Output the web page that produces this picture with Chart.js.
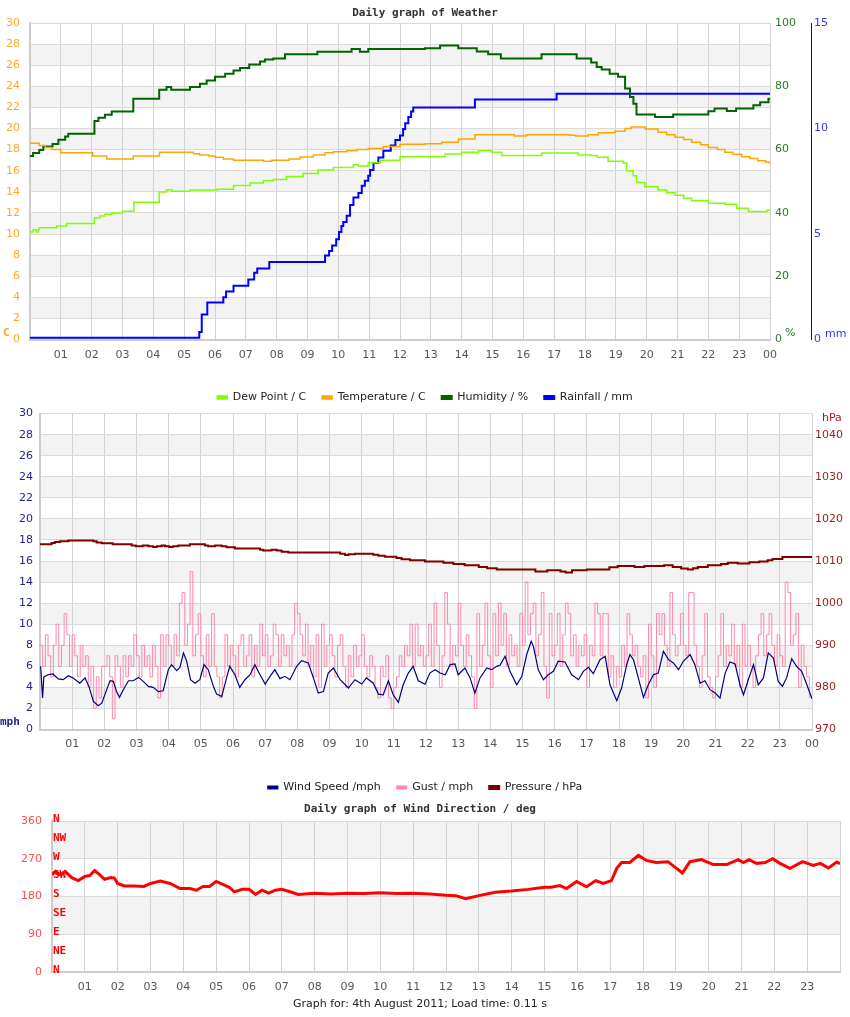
<!DOCTYPE html>
<html>
<head>
<meta charset="utf-8">
<title>Daily graph of Weather</title>
<script src="https://cdn.jsdelivr.net/npm/chart.js@4.4.0/dist/chart.umd.min.js"></script>
<style>
  body { margin: 0; background: #fff; }
  #wrap { position: relative; width: 850px; height: 1017px; }
  canvas { position: absolute; left: 0; }
</style>
</head>
<body>
<div id="wrap">
  <canvas id="chart1" width="850" height="413" style="top:0px"></canvas>
  <canvas id="chart2" width="850" height="403" style="top:400px"></canvas>
  <canvas id="chart3" width="850" height="221" style="top:796px"></canvas>
</div>
<script>
// tick labels
var hourLabels = ['', '01', '02', '03', '04', '05', '06', '07', '08', '09', '10', '11', '12',
                  '13', '14', '15', '16', '17', '18', '19', '20', '21', '22', '23', '00'];
var compassLabels = ['N', 'NE', 'E', 'SE', 'S', 'SW', 'W', 'NW', 'N'];

// weather (hours of day, values)
var tempTimes = [0, 0.3, 0.5, 0.7, 1.0, 2.03, 2.49, 3.35, 4.2, 5.3, 5.5, 5.8, 6.0, 6.27, 6.6, 7.57, 7.84, 8.4, 8.76, 9.19,
                 9.57, 9.84, 10.27, 10.6, 10.97, 11.46, 12.0, 12.81, 13.35, 13.9, 14.43, 15.7, 16.1, 17.5, 17.7, 18.1, 18.43, 18.97, 19.3, 19.5,
                 19.95, 20.37, 20.65, 20.92, 21.2, 21.46, 21.75, 22.0, 22.3, 22.54, 22.8, 23.08, 23.35, 23.6, 23.85, 24];
var temperature = [18.6, 18.4, 18.2, 18.0, 17.7, 17.4, 17.1, 17.4, 17.75, 17.6, 17.5, 17.4, 17.27, 17.1, 17.0, 16.9, 17.0, 17.1, 17.3, 17.5,
                   17.7, 17.8, 17.9, 18.0, 18.1, 18.3, 18.5, 18.55, 18.7, 19.0, 19.4, 19.3, 19.4, 19.35, 19.3, 19.4, 19.6, 19.75, 20.0, 20.15,
                   19.96, 19.65, 19.4, 19.17, 18.95, 18.7, 18.45, 18.2, 18.0, 17.75, 17.55, 17.33, 17.15, 16.95, 16.8, 16.6];

var dewTimes = [0, 0.1, 0.2, 0.27, 0.3, 0.86, 1.19, 2.09, 2.27, 2.43, 2.65, 3.0, 3.37, 4.19, 4.43, 4.6, 5.19, 6.06, 6.6, 7.14,
                7.57, 7.89, 8.32, 8.86, 9.35, 9.84, 10.49, 10.65, 10.97, 11.35, 12.0, 13.46, 14.0, 14.54, 14.97, 15.3, 16.6, 17.78, 18.2, 18.4,
                18.75, 19.24, 19.35, 19.56, 19.67, 19.94, 20.37, 20.65, 20.92, 21.2, 21.46, 22.0, 22.54, 22.92, 23.3, 23.9, 24];
var dewPoint = [10.2, 10.4, 10.2, 10.4, 10.6, 10.76, 11.0, 11.55, 11.7, 11.87, 12.0, 12.16, 13.0, 13.97, 14.2, 14.06, 14.16, 14.25, 14.6, 14.83,
                15.05, 15.17, 15.46, 15.74, 16.06, 16.3, 16.57, 16.45, 16.76, 17.0, 17.33, 17.59, 17.75, 17.9, 17.75, 17.43, 17.68, 17.5, 17.43, 17.27,
                16.9, 16.73, 16.0, 15.52, 14.89, 14.48, 14.16, 13.9, 13.68, 13.4, 13.14, 12.92, 12.83, 12.44, 12.13, 12.25, 12.25];

var humTimes = [0, 0.1, 0.3, 0.43, 0.73, 0.92, 1.14, 1.24, 2.09, 2.22, 2.43, 2.65, 3.35, 4.19, 4.43, 4.58, 5.19, 5.51, 5.73, 6.0,
                6.33, 6.6, 6.81, 7.11, 7.46, 7.62, 7.89, 8.27, 9.32, 10.43, 10.7, 10.97, 12.81, 13.3, 13.89, 14.49, 14.86, 15.27, 16.59, 17.73,
                18.2, 18.38, 18.54, 18.8, 19.07, 19.3, 19.46, 19.57, 19.67, 20.27, 20.86, 22.0, 22.2, 22.6, 22.9, 23.46, 23.68, 23.95, 24];
var humidity = [58.0, 58.95, 59.9, 60.95, 61.8, 63.1, 64.1, 65.0, 69.0, 70.05, 71.0, 72.06, 76.1, 78.9, 79.8, 78.9, 79.8, 80.8, 81.8, 83.0,
                84.0, 85.0, 85.8, 86.9, 87.8, 88.5, 88.8, 90.1, 90.9, 91.8, 90.9, 91.8, 92.0, 92.9, 92.0, 91.0, 90.1, 88.8, 90.1, 88.8,
                87.5, 86.1, 85.3, 84.0, 83.0, 79.3, 76.6, 74.5, 71.1, 70.3, 71.1, 72.1, 73.0, 72.2, 73.0, 74.0, 75.0, 76.1, 76.1];

var rainTimes = [0, 5.49, 5.57, 5.75, 6.27, 6.36, 6.6, 7.08, 7.27, 7.37, 7.76, 9.57, 9.7, 9.8, 9.93, 10.02, 10.1, 10.16, 10.27, 10.38,
                 10.49, 10.65, 10.76, 10.86, 10.97, 11.03, 11.14, 11.3, 11.46, 11.7, 11.85, 12.0, 12.1, 12.17, 12.27, 12.36, 12.43, 14.43, 17.08, 24];
var rainfall = [0.08, 0.35, 1.18, 1.75, 2.0, 2.27, 2.55, 2.84, 3.16, 3.37, 3.67, 3.98, 4.19, 4.46, 4.75, 5.1, 5.38, 5.57, 5.86, 6.37,
                6.73, 6.94, 7.29, 7.52, 7.76, 8.03, 8.37, 8.63, 8.95, 9.2, 9.46, 9.67, 9.98, 10.25, 10.54, 10.8, 11.0, 11.37, 11.65, 11.65];

// wind
var windTimes = [0.02, 0.08, 0.12, 0.25, 0.4, 0.57, 0.72, 0.88, 1.03, 1.24, 1.4, 1.53, 1.66, 1.81, 1.92, 2.05, 2.18, 2.28, 2.38, 2.47,
                 2.59, 2.75, 2.9, 3.06, 3.21, 3.37, 3.52, 3.68, 3.83, 3.99, 4.09, 4.25, 4.35, 4.46, 4.56, 4.68, 4.82, 4.97, 5.1, 5.23,
                 5.39, 5.49, 5.65, 5.8, 5.9, 6.06, 6.21, 6.37, 6.53, 6.68, 6.84, 7.0, 7.15, 7.3, 7.46, 7.61, 7.77, 7.98, 8.13, 8.34,
                 8.5, 8.65, 8.81, 8.96, 9.12, 9.33, 9.59, 9.79, 10.0, 10.15, 10.36, 10.52, 10.67, 10.83, 10.98, 11.14, 11.29, 11.45, 11.6, 11.76,
                 11.97, 12.12, 12.28, 12.44, 12.6, 12.75, 12.9, 13.0, 13.21, 13.37, 13.52, 13.68, 13.89, 14.04, 14.2, 14.3, 14.46, 14.61, 14.82, 14.98,
                 15.13, 15.27, 15.34, 15.49, 15.65, 15.8, 15.96, 16.11, 16.32, 16.53, 16.74, 16.89, 17.05, 17.2, 17.41, 17.57, 17.72, 17.93, 18.08, 18.24,
                 18.34, 18.45, 18.6, 18.76, 18.91, 19.07, 19.22, 19.38, 19.54, 19.69, 19.85, 20.0, 20.21, 20.36, 20.52, 20.67, 20.83, 20.99, 21.14, 21.3,
                 21.45, 21.61, 21.76, 21.87, 22.02, 22.18, 22.33, 22.49, 22.64, 22.8, 22.95, 23.08, 23.21, 23.37, 23.52, 23.68, 23.84, 24.0];
var windSpeed = [6.0, 3.0, 5.0, 5.2, 5.27, 4.8, 4.73, 5.1, 4.9, 4.4, 4.9, 4.0, 2.67, 2.25, 2.5, 3.6, 4.63, 4.57, 3.6, 3.05,
                 3.78, 4.63, 4.63, 4.95, 4.57, 4.1, 4.0, 3.6, 3.68, 5.68, 6.16, 5.59, 5.9, 7.27, 6.5, 4.73, 4.4, 4.73, 6.16, 5.68,
                 4.1, 3.36, 3.14, 4.9, 6.0, 5.2, 4.0, 4.73, 5.2, 6.16, 5.2, 4.32, 5.05, 5.68, 4.83, 5.05, 4.73, 6.0, 6.54, 6.32,
                 4.9, 3.46, 3.6, 5.36, 5.84, 4.73, 3.94, 4.73, 4.32, 4.9, 4.4, 3.36, 3.3, 4.63, 3.3, 2.57, 4.25, 5.36, 6.0, 4.63,
                 4.3, 5.36, 5.68, 5.36, 5.2, 6.16, 6.22, 5.2, 5.84, 4.9, 3.46, 4.9, 5.84, 5.68, 6.0, 6.1, 6.95, 5.52, 4.25, 5.05,
                 7.11, 8.38, 7.9, 5.68, 4.73, 5.2, 5.52, 6.48, 6.41, 5.2, 4.73, 5.52, 5.9, 5.3, 6.63, 6.95, 4.25, 2.73, 3.94, 6.16,
                 7.11, 6.63, 4.9, 3.05, 4.25, 5.2, 5.36, 7.43, 6.63, 6.32, 5.68, 6.48, 7.11, 6.16, 4.4, 4.63, 3.78, 3.46, 2.98, 5.36,
                 6.41, 6.22, 4.25, 3.3, 4.73, 6.16, 4.25, 4.9, 7.27, 6.79, 4.57, 4.1, 4.9, 6.73, 6.0, 5.52, 4.25, 2.92];

// gust, one row per hour, every 5 minutes
var gust = [
  8, 6, 9, 7, 5, 8, 10, 6, 8, 11, 9, 6,
  9, 7, 5, 8, 6, 7, 4, 6, 2, 5, 3, 6,
  6, 7, 5, 1, 7, 6, 4, 7, 5, 7, 6, 9,
  7, 5, 8, 6, 7, 5, 8, 6, 3, 9, 6, 9,
  8, 6, 9, 7, 12, 13, 8, 10, 15, 7, 9, 11,
  7, 5, 9, 6, 11, 6, 5, 3, 5, 9, 6, 8,
  7, 5, 8, 9, 6, 7, 9, 5, 8, 6, 10, 7,
  9, 6, 7, 10, 9, 6, 9, 7, 8, 6, 9, 12,
  11, 9, 7, 10, 6, 8, 5, 9, 4, 10, 6, 8,
  9, 7, 5, 8, 9, 6, 4, 7, 5, 8, 6, 7,
  9, 6, 5, 7, 6, 4, 3, 6, 5, 7, 3, 2,
  4, 5, 7, 6, 8, 7, 10, 6, 10, 7, 8, 6,
  7, 10, 6, 12, 8, 4, 7, 13, 10, 6, 8, 7,
  12, 8, 6, 9, 7, 5, 2, 11, 6, 8, 12, 7,
  4, 11, 7, 12, 8, 11, 6, 9, 7, 8, 6, 11,
  8, 14, 9, 11, 12, 7, 9, 13, 6, 3, 11, 7,
  8, 11, 6, 9, 12, 11, 7, 9, 6, 8, 7, 9,
  4, 8, 7, 12, 11, 7, 11, 11, 5, 7, 4, 6,
  5, 8, 6, 11, 9, 7, 8, 6, 5, 7, 3, 10,
  7, 4, 11, 9, 11, 8, 6, 13, 9, 7, 8, 11,
  8, 7, 13, 13, 8, 6, 4, 7, 11, 5, 4, 3,
  5, 7, 11, 6, 8, 7, 10, 6, 8, 4, 10, 6,
  8, 6, 4, 7, 9, 11, 7, 9, 11, 8, 6, 9,
  7, 6, 14, 13, 8, 9, 11, 4, 8, 6, 5, 3
];

var presTimes = [0, 0.36, 0.46, 0.62, 0.88, 1.66, 1.76, 1.92, 2.26, 2.85, 2.98, 3.19, 3.37, 3.52, 3.63, 3.78, 3.89, 4.02, 4.14, 4.3,
                 4.66, 5.13, 5.23, 5.44, 5.65, 5.8, 6.06, 6.84, 6.94, 7.2, 7.36, 7.51, 7.72, 9.33, 9.48, 9.59, 9.79, 10.36, 10.52, 10.72,
                 11.08, 11.24, 11.5, 11.97, 12.54, 12.85, 13.2, 13.64, 13.9, 14.2, 15.4, 15.77, 16.18, 16.34, 16.54, 17.0, 17.7, 17.96, 18.48, 18.79,
                 19.4, 19.67, 19.93, 20.14, 20.3, 20.45, 20.76, 21.17, 21.38, 21.69, 22.05, 22.36, 22.62, 22.77, 23.08, 24];
var pressure = [1014.0, 1014.3, 1014.5, 1014.7, 1014.9, 1014.7, 1014.4, 1014.2, 1014.0, 1013.7, 1013.5, 1013.7, 1013.5, 1013.3, 1013.5, 1013.7, 1013.5, 1013.3, 1013.5, 1013.7,
                1014.0, 1013.7, 1013.5, 1013.7, 1013.5, 1013.25, 1013.0, 1012.7, 1012.5, 1012.7, 1012.5, 1012.2, 1012.0, 1011.7, 1011.4, 1011.6, 1011.7, 1011.5, 1011.27, 1011.0,
                1010.7, 1010.4, 1010.2, 1009.9, 1009.6, 1009.3, 1009.0, 1008.6, 1008.3, 1008.0, 1007.5, 1007.8, 1007.5, 1007.3, 1007.8, 1008.0, 1008.5, 1008.8, 1008.6, 1008.8,
                1009.0, 1008.6, 1008.25, 1008.0, 1008.3, 1008.6, 1009.0, 1009.3, 1009.6, 1009.4, 1009.7, 1009.9, 1010.2, 1010.5, 1010.95, 1010.95];

// wind direction
var dirTimes = [0, 0.1, 0.25, 0.4, 0.6, 0.8, 1.0, 1.15, 1.3, 1.45, 1.6, 1.8, 1.9, 2.0, 2.2, 2.5, 2.8, 3.0, 3.3, 3.6,
                3.9, 4.2, 4.4, 4.6, 4.8, 5.0, 5.2, 5.4, 5.55, 5.8, 6.0, 6.2, 6.4, 6.6, 6.8, 7.0, 7.3, 7.5, 8.0, 8.5,
                9.0, 9.5, 10.0, 10.5, 11.0, 11.5, 12.0, 12.3, 12.6, 13.0, 13.5, 14.0, 14.5, 15.0, 15.2, 15.47, 15.67, 15.98, 16.28, 16.56,
                16.79, 17.04, 17.2, 17.35, 17.6, 17.86, 18.1, 18.4, 18.76, 19.02, 19.2, 19.43, 19.78, 20.14, 20.55, 20.9, 21.06, 21.23, 21.46, 21.72,
                21.95, 22.17, 22.48, 22.86, 23.19, 23.4, 23.65, 23.9, 24.0];
var windDir = [232, 240, 232, 240, 225, 218, 228, 230, 242, 232, 221, 225, 224, 211, 205, 205, 204, 211, 217, 211,
               199, 199, 195, 204, 204, 216, 209, 202, 191, 197, 197, 185, 195, 188, 195, 197, 190, 185, 188, 186,
               188, 187, 189, 187, 188, 186, 183, 182, 175, 182, 190, 193, 197, 202, 202, 206, 199, 216, 203, 218,
               211, 218, 247, 261, 261, 278, 266, 261, 263, 247, 236, 263, 268, 256, 256, 268, 261, 268, 259, 261,
               270, 259, 247, 263, 254, 259, 248, 262, 258];


function toPoints(times, values) {
    return times.map(function(t, i) { return {x: t, y: values[i]}; });
}

Chart.defaults.font.family = "'DejaVu Sans', sans-serif";
Chart.defaults.font.size = 11;
Chart.defaults.animation = false;

var titleFont = {family: "'DejaVu Sans Mono', monospace", size: 11, weight: 'bold'};

// grey stripes behind the grid
var bandsPlugin = {
    id: 'bands',
    beforeDraw: function(chart, args, opts) {
        var c = chart.ctx, area = chart.chartArea, ys = chart.scales[opts.axis];
        c.save();
        c.fillStyle = opts.color;
        for (var v = opts.start; v < ys.max; v += opts.step) {
            var top = ys.getPixelForValue(Math.min(v + opts.size, ys.max));
            var bottom = ys.getPixelForValue(v);
            c.fillRect(area.left, top, area.right - area.left, bottom - top);
        }
        c.restore();
    }
};

// unit captions next to the axes
var unitsPlugin = {
    id: 'units',
    afterDraw: function(chart, args, opts) {
        var c = chart.ctx;
        (opts.items || []).forEach(function(it) {
            c.save();
            c.font = it.font;
            c.fillStyle = it.color;
            c.textAlign = 'left';
            c.textBaseline = 'middle';
            c.fillText(it.text, it.x, it.y);
            c.restore();
        });
    }
};

// compass names on the direction axis
var compassPlugin = {
    id: 'compass',
    afterDraw: function(chart, args, opts) {
        var c = chart.ctx, ys = chart.scales.y;
        c.save();
        c.font = "bold 11px 'DejaVu Sans Mono', monospace";
        c.fillStyle = '#ff0000';
        c.textAlign = 'left';
        c.textBaseline = 'middle';
        compassLabels.forEach(function(name, i) {
            c.fillText(name, chart.chartArea.left + 1, ys.getPixelForValue(i * 45) - 2);
        });
        c.restore();
    }
};

function hourAxis(height, padding, hideLast) {
    return {
        type: 'linear', min: 0, max: 24,
        afterFit: function(s) { s.height = height; },
        ticks: {
            stepSize: 1, autoSkip: false, maxRotation: 0, color: '#555', padding: padding,
            callback: function(v) { return (hideLast && v === 24) ? '' : hourLabels[v]; }
        },
        grid: {color: '#d2d2d2', drawTicks: false},
        border: {display: true, color: '#cccccc', width: 2}
    };
}

var legendOpts = {
    position: 'bottom',
    display: true,
    labels: {boxWidth: 10, boxHeight: 3, padding: 16, color: '#222', font: {size: 11}}
};


// chart1
var ctx = document.getElementById('chart1').getContext('2d');
var myChart = new Chart(ctx, {
    type: 'line',
    data: {
        datasets: [{
            label: 'Dew Point / C',
            data: toPoints(dewTimes, dewPoint),
            borderColor: '#80ff00',
            backgroundColor: '#80ff00',
            borderWidth: 1.5,
            stepped: true,
            yAxisID: 'y'
        },
        {
            label: 'Temperature / C',
            data: toPoints(tempTimes, temperature),
            borderColor: '#ffa500',
            backgroundColor: '#ffa500',
            borderWidth: 1.5,
            stepped: true,
            yAxisID: 'y'
        },
        {
            label: 'Humidity / %',
            data: toPoints(humTimes, humidity),
            borderColor: '#006400',
            backgroundColor: '#006400',
            borderWidth: 2,
            stepped: true,
            yAxisID: 'hum'
        },
        {
            label: 'Rainfall / mm',
            data: toPoints(rainTimes, rainfall),
            borderColor: '#0000ff',
            backgroundColor: '#0000ff',
            borderWidth: 2,
            stepped: true,
            yAxisID: 'rain'
        }]
    },
    options: {
        responsive: false,
        devicePixelRatio: 1,
        elements: { point: { radius: 0 } },
        plugins: {
            title: {
                display: true,
                text: 'Daily graph of Weather',
                color: '#333',
                font: titleFont,
                padding: {top: 6.4, bottom: 3.4}
            },
            legend: legendOpts,
            tooltip: { enabled: false },
            bands: {axis: 'y', start: 2, step: 4, size: 2, color: '#f3f3f3'},
            units: {items: [
                {text: 'C', x: 3, y: 333, color: '#ffa726', font: "bold 11px 'DejaVu Sans Mono'"},
                {text: '%', x: 785, y: 333, color: '#2b7a2b', font: "11px 'DejaVu Sans'"},
                {text: 'mm', x: 825, y: 334, color: '#3333ff', font: "11px 'DejaVu Sans'"}
            ]}
        },
        scales: {
            x: hourAxis(36.5, 9, false),
            y: {
                min: 0, max: 30,
                afterFit: function(s) { s.width = 30; },
                ticks: {stepSize: 2, color: '#ffa726', padding: 10},
                grid: {color: '#dadada', drawTicks: false},
                border: {display: true, color: '#cccccc', width: 2}
            },
            hum: {
                position: 'right',
                min: 0, max: 100,
                afterFit: function(s) { s.width = 41; },
                ticks: {stepSize: 20, color: '#2b7a2b', padding: 5},
                grid: {display: false, drawTicks: false},
                border: {display: false}
            },
            rain: {
                position: 'right',
                min: 0, max: 15,
                afterFit: function(s) { s.width = 39; },
                ticks: {stepSize: 5, color: '#3333ff', padding: 3},
                grid: {display: false, drawTicks: false},
                border: {display: true, color: '#0000ff', width: 1}
            }
        }
    },
    plugins: [bandsPlugin, unitsPlugin]
});


// chart2
var ctx = document.getElementById('chart2').getContext('2d');
var myChart = new Chart(ctx, {
    type: 'line',
    data: {
        datasets: [{
            label: 'Wind Speed /mph',
            data: toPoints(windTimes, windSpeed),
            borderColor: '#000080',
            backgroundColor: '#000080',
            borderWidth: 1.2,
            yAxisID: 'y'
        },
        {
            label: 'Gust / mph',
            data: gust.map(function(v, i) { return {x: i * 5 / 60, y: v}; }),
            borderColor: '#ff88aa',
            backgroundColor: '#ff88aa',
            borderWidth: 1,
            stepped: true,
            yAxisID: 'y'
        },
        {
            label: 'Pressure / hPa',
            data: toPoints(presTimes, pressure),
            borderColor: '#800000',
            backgroundColor: '#800000',
            borderWidth: 2,
            stepped: true,
            yAxisID: 'p'
        }]
    },
    options: {
        responsive: false,
        devicePixelRatio: 1,
        layout: { padding: {top: 13} },
        elements: { point: { radius: 0 } },
        plugins: {
            legend: legendOpts,
            tooltip: { enabled: false },
            bands: {axis: 'y', start: 2, step: 4, size: 2, color: '#f3f3f3'},
            units: {items: [
                {text: 'mph', x: 0, y: 322, color: '#1f1f8f', font: "bold 11px 'DejaVu Sans Mono'"},
                {text: 'hPa', x: 822, y: 18, color: '#9b1c1c', font: "11px 'DejaVu Sans'"}
            ]}
        },
        scales: {
            x: hourAxis(36.5, 8.4, false),
            y: {
                min: 0, max: 30,
                afterFit: function(s) { s.width = 40; },
                ticks: {stepSize: 2, color: '#1f1f8f', padding: 7},
                grid: {color: '#dadada', drawTicks: false},
                border: {display: true, color: '#cccccc', width: 2}
            },
            p: {
                position: 'right',
                min: 970, max: 1045,
                afterFit: function(s) { s.width = 38; },
                ticks: {
                    stepSize: 10, includeBounds: false, color: '#9b1c1c', padding: 3,
                    callback: function(v) { return v % 10 === 0 ? String(v) : ''; }
                },
                grid: {display: false, drawTicks: false},
                border: {display: false}
            }
        }
    },
    plugins: [bandsPlugin, unitsPlugin]
});


// chart3
var ctx = document.getElementById('chart3').getContext('2d');
var myChart = new Chart(ctx, {
    type: 'line',
    data: {
        datasets: [{
            label: 'Wind Direction / deg',
            data: toPoints(dirTimes, windDir),
            borderColor: '#ff0000',
            backgroundColor: '#ff0000',
            borderWidth: 3
        }]
    },
    options: {
        responsive: false,
        devicePixelRatio: 1,
        layout: { padding: {right: 10} },
        elements: { point: { radius: 0 } },
        plugins: {
            title: {
                display: true,
                text: 'Daily graph of Wind Direction / deg',
                color: '#333',
                font: titleFont,
                padding: {top: 6.4, bottom: 5.4}
            },
            subtitle: {
                display: true,
                position: 'bottom',
                text: 'Graph for: 4th August 2011; Load time: 0.11 s',
                color: '#222',
                font: {size: 11},
                padding: {top: 5.4, bottom: 6.4}
            },
            legend: { display: false },
            tooltip: { enabled: false },
            bands: {axis: 'y', start: 90, step: 180, size: 90, color: '#f3f3f3'}
        },
        scales: {
            x: hourAxis(20, 8.4, true),
            y: {
                min: 0, max: 360,
                afterFit: function(s) { s.width = 52; },
                ticks: {stepSize: 90, color: '#ff4d4d', padding: 10},
                grid: {color: '#dadada', drawTicks: false},
                border: {display: true, color: '#cccccc', width: 2}
            }
        }
    },
    plugins: [bandsPlugin, compassPlugin]
});
</script>
</body>
</html>
